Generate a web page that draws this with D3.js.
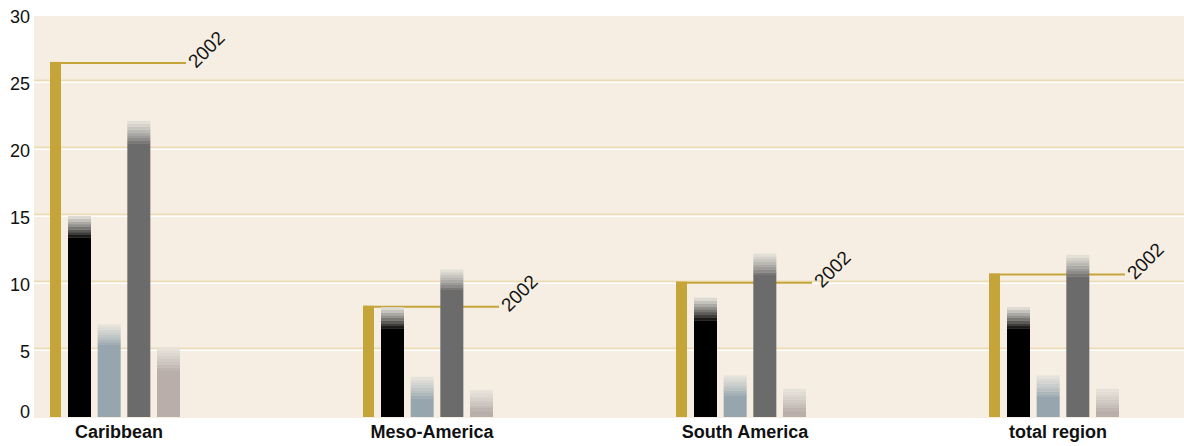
<!DOCTYPE html>
<html>
<head>
<meta charset="utf-8">
<script src="https://cdn.jsdelivr.net/npm/d3@7"></script>
<style>
  body { margin: 0; background: #fff; }
  text { font-family: "Liberation Sans", Arial, Helvetica, sans-serif; }
</style>
</head>
<body>
<div id="chart"></div>
<script>
// regions and values
var categories = ["Caribbean", "Meso-America", "South America", "total region"];
var values2002 = [26.5, 8.3, 10.1, 10.7];
var seriesNames = ["black", "blue", "grey", "rose"];
// solid part (low) and faded top (high) for each series
var blackLow  = [13.4, 6.6, 7.2, 6.6];
var blackHigh = [15.0, 8.2, 8.9, 8.2];
var blueLow   = [5.4, 1.4, 1.6, 1.5];
var blueHigh  = [6.9, 3.0, 3.1, 3.1];
var greyLow   = [20.4, 9.5, 10.6, 10.5];
var greyHigh  = [22.1, 11.0, 12.2, 12.1];
var roseLow   = [3.5, 0.5, 0.5, 0.5];
var roseHigh  = [5.2, 2.0, 2.1, 2.1];
var yTicks = [0, 5, 10, 15, 20, 25, 30];
var yearLabel = "2002";

var lows = [blackLow, blueLow, greyLow, roseLow];
var highs = [blackHigh, blueHigh, greyHigh, roseHigh];
var colors = ["#000000", "#97a6ae", "#6b6b6b", "#b9aea9"];
var fadeTop = "#e8e5dd";

var width = 1184, height = 446;
var plot = {left: 34, top: 16, right: 1184, bottom: 418};

var svg = d3.select("#chart")
  .append("svg")
  .attr("width", width)
  .attr("height", height);

var y = d3.scaleLinear()
  .domain([0, 30])
  .range([417, 15]);

var x = d3.scalePoint()
  .domain(categories)
  .range([50, 989]);

var inner = d3.scaleBand()
  .domain(seriesNames)
  .range([18, 130])
  .paddingInner(0.225);

// plot background
svg.append("rect")
  .attr("x", plot.left)
  .attr("y", plot.top)
  .attr("width", plot.right - plot.left)
  .attr("height", plot.bottom - plot.top)
  .attr("fill", "#f6eee2");

// gridlines: tan line with a white line under it
var grid = svg.append("g");
yTicks.filter(function(d) { return d > 0 && d < 30; }).forEach(function(t) {
  grid.append("line")
    .attr("x1", plot.left).attr("x2", plot.right)
    .attr("y1", y(t) - 1.5).attr("y2", y(t) - 1.5)
    .attr("stroke", "#ecdcb6")
    .attr("stroke-width", 2);
  grid.append("line")
    .attr("x1", plot.left).attr("x2", plot.right)
    .attr("y1", y(t) + 0.3).attr("y2", y(t) + 0.3)
    .attr("stroke", "#ffffff")
    .attr("stroke-width", 1.6);
});

// y axis
var yAxis = svg.append("g")
  .attr("transform", "translate(" + plot.left + ",0)")
  .call(d3.axisLeft(y).tickValues(yTicks).tickSize(0).tickPadding(4));
yAxis.select(".domain").remove();
yAxis.selectAll("text")
  .style("font-size", "18px")
  .attr("fill", "#111")
  .attr("dy", function(d) { return d === 0 ? "0" : "0.42em"; })
  .attr("transform", function(d) { return d === 0 ? "translate(0,0.5)" : null; });

var groups = svg.selectAll(".group")
  .data(categories)
  .enter().append("g")
  .attr("class", "group")
  .attr("transform", function(d) { return "translate(" + x(d) + ",0)"; });

// 2002 bar with leader line and label
groups.append("rect")
  .attr("x", 0)
  .attr("width", 11)
  .attr("y", function(d, i) { return y(values2002[i]); })
  .attr("height", function(d, i) { return y(0) - y(values2002[i]); })
  .attr("fill", "#c5a53a");

groups.append("line")
  .attr("x1", 0).attr("x2", 136)
  .attr("y1", function(d, i) { return y(values2002[i]) + 1; })
  .attr("y2", function(d, i) { return y(values2002[i]) + 1; })
  .attr("stroke", "#c5a53a")
  .attr("stroke-width", 2);

groups.append("text")
  .attr("transform", function(d, i) {
    return "translate(146," + (y(values2002[i]) + 7) + ") rotate(-45)";
  })
  .style("font-size", "19px")
  .attr("fill", "#111")
  .text(yearLabel);

// other series: solid part and stepped fade on top
var steps = 8;
seriesNames.forEach(function(s, k) {
  var bx = inner(s), bw = inner.bandwidth();
  groups.append("rect")
    .attr("x", bx)
    .attr("width", bw)
    .attr("y", function(d, i) { return y(lows[k][i]); })
    .attr("height", function(d, i) { return y(0) - y(lows[k][i]); })
    .attr("fill", colors[k]);

  var interp = d3.interpolateRgb(colors[k], fadeTop);
  for (var j = 0; j < steps; j++) {
    (function(j) {
      groups.append("rect")
        .attr("x", bx)
        .attr("width", bw)
        .attr("y", function(d, i) {
          var lo = lows[k][i], hi = highs[k][i];
          return y(lo + (hi - lo) * (j + 1) / steps);
        })
        .attr("height", function(d, i) {
          var lo = lows[k][i], hi = highs[k][i];
          return y(lo + (hi - lo) * j / steps) - y(lo + (hi - lo) * (j + 1) / steps) + 0.3;
        })
        .attr("fill", interp(Math.pow((j + 0.5) / steps, 0.8)));
    })(j);
  }
});

// category labels
groups.append("text")
  .attr("x", 69)
  .attr("y", 438)
  .attr("text-anchor", "middle")
  .style("font-size", "18px")
  .style("font-weight", "bold")
  .attr("fill", "#111")
  .text(function(d) { return d; });
</script>
</body>
</html>
